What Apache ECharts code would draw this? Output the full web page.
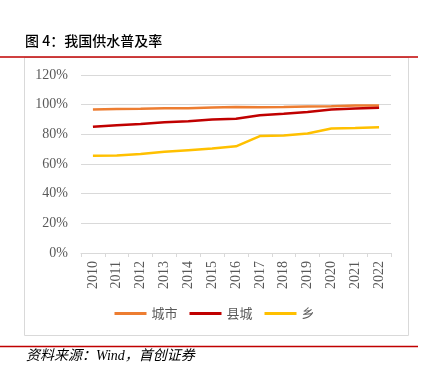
<!DOCTYPE html>
<html><head><meta charset="utf-8">
<script src="https://cdn.jsdelivr.net/npm/echarts@6/dist/echarts.min.js"></script>
<style>html,body{margin:0;padding:0;background:#fff}#c{width:429px;height:373px}</style>
</head><body><div id="c"></div>
<script>
const years = ['2010','2011','2012','2013','2014','2015','2016','2017','2018','2019','2020','2021','2022'];
const city = [96.7, 97.0, 97.2, 97.6, 97.6, 98.1, 98.4, 98.3, 98.4, 98.8, 99.0, 99.4, 99.4];
const county = [85.1, 86.1, 86.9, 88.1, 88.9, 90.0, 90.5, 92.9, 93.8, 95.1, 96.7, 97.4, 97.9];
const town = [65.6, 65.7, 66.7, 68.2, 69.3, 70.4, 71.9, 78.8, 79.2, 80.5, 83.9, 84.2, 84.7];
const seriesNames = ['城市','县城','乡'];
const colors = ['#ED7D31','#C00000','#FFC000'];

const chart = echarts.init(document.getElementById('c'), null, {renderer:'canvas'});
const serif = '"Liberation Serif","Times New Roman",serif';
const mk = (name, data, color) => ({
  name, type:'line', data, symbol:'none', smooth:false,
  lineStyle:{color, width:2.5}, itemStyle:{color}
});
chart.setOption({
  animation:false,
  color: colors,
  grid:{left:81, right:38, top:75, bottom:120},
  xAxis:{
    type:'category', data:years, boundaryGap:true,
    axisLine:{lineStyle:{color:'#D9D9D9'}},
    axisTick:{show:true, lineStyle:{color:'#D9D9D9'}, length:4},
    axisLabel:{rotate:90, color:'#595959', fontFamily:serif, fontSize:14, margin:8}
  },
  yAxis:{
    type:'value', min:0, max:120, interval:20,
    axisLine:{show:false}, axisTick:{show:false},
    splitLine:{lineStyle:{color:'#D9D9D9', width:1}},
    axisLabel:{formatter:'{value}%', color:'#595959', fontFamily:serif, fontSize:14, margin:13}
  },
  legend:{
    data:seriesNames, bottom:48, left:'center', icon:'rect', itemWidth:32, itemHeight:3, itemGap:12,
    textStyle:{color:'#595959', fontSize:13, fontFamily:'"Noto Sans CJK SC",sans-serif'}
  },
  series:[mk(seriesNames[0], city, colors[0]), mk(seriesNames[1], county, colors[1]), mk(seriesNames[2], town, colors[2])],
  graphic:[
    {type:'rect', shape:{x:24.5, y:57.5, width:384, height:278}, style:{fill:'none', stroke:'#D9D9D9', lineWidth:1}, z:-1},
    {type:'line', shape:{x1:0, y1:57, x2:418, y2:57}, style:{stroke:'#C00000', lineWidth:1.5}},
    {type:'line', shape:{x1:0, y1:346.5, x2:418, y2:346.5}, style:{stroke:'#C00000', lineWidth:1.5}},
    {type:'text', left:25, top:34, style:{text:'图 4：我国供水普及率', fill:'#000', font:'500 14px "Noto Sans CJK SC",sans-serif'}},
    {type:'text', left:26, top:349, style:{text:'资料来源：Wind，首创证券', fill:'#000', font:'italic 14px "Liberation Serif","Noto Sans CJK SC",serif'}}
  ]
});
</script></body></html>
